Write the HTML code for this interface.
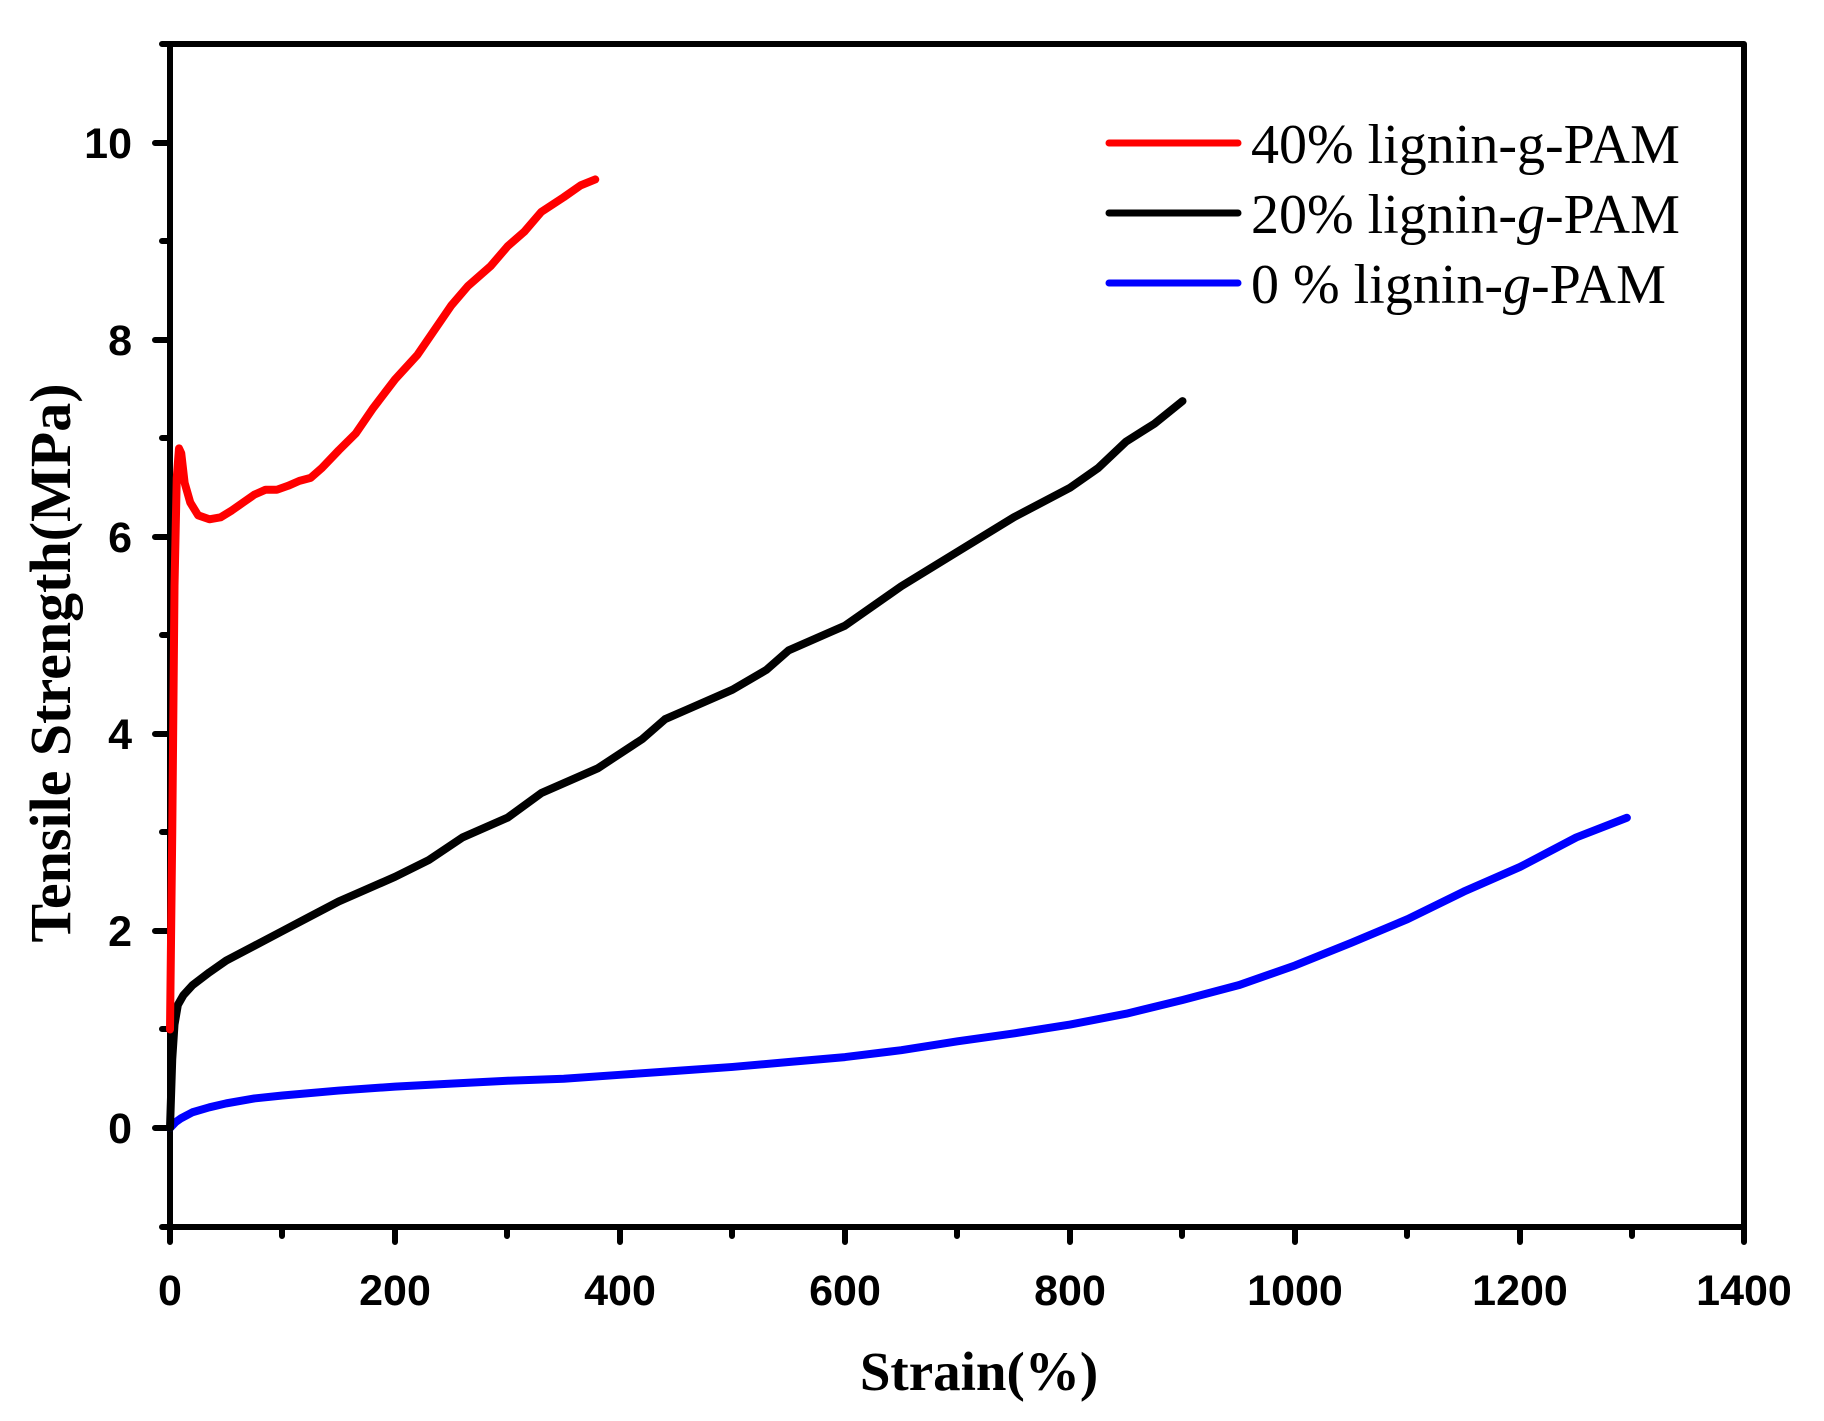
<!DOCTYPE html>
<html><head><meta charset="utf-8"><style>
html,body{margin:0;padding:0;background:#fff;}
svg{display:block;}
.tl{font-family:"Liberation Sans",sans-serif;font-weight:bold;font-size:43px;fill:#000;}
.lg{font-family:"Liberation Serif",serif;font-size:56px;fill:#000;}
.tt{font-family:"Liberation Serif",serif;font-weight:bold;}
</style></head><body>
<svg width="1824" height="1421" viewBox="0 0 1824 1421" xmlns="http://www.w3.org/2000/svg">
<rect width="1824" height="1421" fill="#fff"/>
<g stroke="#000" stroke-width="6" stroke-linecap="round" fill="none">
<rect x="170" y="44" width="1574" height="1183" stroke-linejoin="round"/>
<path d="M170 1128H155 M170 931H155 M170 734H155 M170 537H155 M170 340H155 M170 143H155
M170 1227H162 M170 1029H162 M170 832H162 M170 635H162 M170 438H162 M170 241H162 M170 44H162"/>
<path d="M170 1227V1242 M395 1227V1242 M620 1227V1242 M845 1227V1242 M1070 1227V1242 M1295 1227V1242 M1520 1227V1242 M1744 1227V1242
M282 1227V1236 M507 1227V1236 M732 1227V1236 M957 1227V1236 M1182 1227V1236 M1407 1227V1236 M1632 1227V1236"/>
</g>
<g class="tl" text-anchor="end">
<text x="132" y="1143">0</text><text x="132" y="946">2</text><text x="132" y="749">4</text>
<text x="132" y="552">6</text><text x="132" y="355">8</text><text x="132" y="158">10</text>
</g>
<g class="tl" text-anchor="middle">
<text x="170" y="1305">0</text><text x="395" y="1305">200</text><text x="620" y="1305">400</text>
<text x="845" y="1305">600</text><text x="1070" y="1305">800</text><text x="1295" y="1305">1000</text>
<text x="1520" y="1305">1200</text><text x="1744" y="1305">1400</text>
</g>
<text class="tt" x="979" y="1390" text-anchor="middle" font-size="55">Strain(%)</text>
<text class="tt" transform="translate(70,663) rotate(-90)" text-anchor="middle" font-size="58">Tensile Strength(MPa)</text>
<g fill="none" stroke-width="8" stroke-linecap="round" stroke-linejoin="round" transform="translate(170,1128) scale(1.125,-98.5)">
<path vector-effect="non-scaling-stroke" stroke="#0000ff" d="M0 0 L5 0.06 L10 0.1 L20 0.16 L35 0.21 L50 0.25 L75 0.3 L100 0.33 L150 0.38 L200 0.42 L250 0.45 L300 0.48 L350 0.5 L400 0.54 L450 0.58 L500 0.62 L550 0.67 L600 0.72 L650 0.79 L700 0.88 L750 0.96 L800 1.05 L850 1.16 L900 1.3 L950 1.45 L1000 1.65 L1050 1.88 L1100 2.12 L1150 2.4 L1200 2.65 L1250 2.95 L1295 3.15"/>
<path vector-effect="non-scaling-stroke" stroke="#000" d="M0 0 L2 0.7 L4 1.05 L7 1.25 L12 1.35 L20 1.45 L35 1.58 L50 1.7 L75 1.85 L100 2.0 L125 2.15 L150 2.3 L200 2.55 L230 2.72 L260 2.95 L300 3.15 L330 3.4 L380 3.65 L420 3.95 L440 4.15 L460 4.25 L500 4.45 L530 4.65 L550 4.85 L600 5.1 L650 5.5 L700 5.85 L750 6.2 L800 6.5 L825 6.7 L850 6.97 L875 7.15 L900 7.38"/>
<path vector-effect="non-scaling-stroke" stroke="#ff0000" d="M0 1.0 L2 3 L4 5.5 L6 6.6 L8 6.9 L10 6.85 L13 6.55 L18 6.35 L25 6.22 L35 6.18 L45 6.2 L55 6.27 L65 6.35 L75 6.43 L85 6.48 L95 6.48 L105 6.52 L115 6.57 L125 6.6 L135 6.7 L150 6.88 L165 7.05 L180 7.3 L200 7.6 L220 7.85 L235 8.1 L250 8.35 L265 8.55 L285 8.75 L300 8.95 L315 9.1 L330 9.3 L350 9.45 L365 9.57 L378 9.63"/>
</g>
<g stroke-width="7" stroke-linecap="round">
<line x1="1109" y1="143" x2="1238" y2="143" stroke="#ff0000"/>
<line x1="1109" y1="213" x2="1238" y2="213" stroke="#000"/>
<line x1="1109" y1="283" x2="1238" y2="283" stroke="#0000ff"/>
</g>
<g class="lg">
<text x="1251" y="163">40% lignin-g-PAM</text>
<text x="1251" y="233">20% lignin-<tspan font-style="italic">g</tspan>-PAM</text>
<text x="1251" y="303">0 % lignin-<tspan font-style="italic">g</tspan>-PAM</text>
</g>
</svg>
</body></html>
